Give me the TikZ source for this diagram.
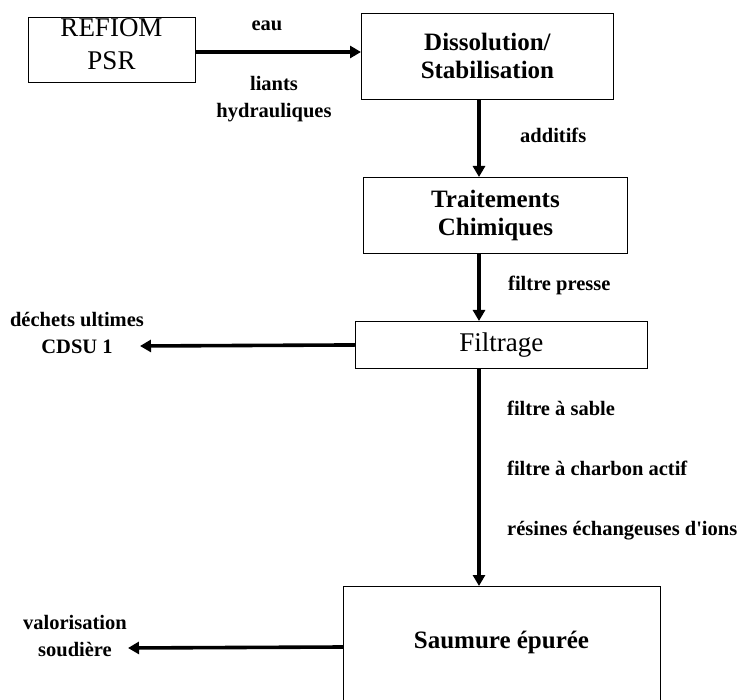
\documentclass[tikz,border=0pt]{standalone}
\usepackage{fontspec}
\setmainfont{Liberation Serif}
\usetikzlibrary{arrows.meta}
\begin{document}
\begin{tikzpicture}[x=1pt,y=-1pt,
  box/.style={draw, line width=0.9pt, inner sep=0pt, align=center},
  boxtext/.style={font=\fontsize{25}{28}\selectfont\bfseries},
  plain/.style={font=\fontsize{27}{30}\selectfont},
  lbl/.style={font=\fontsize{20.5}{27}\selectfont\bfseries, align=center, inner sep=0pt},
  flow/.style={line width=3.6pt, -{Triangle[length=11pt,width=12pt]}}]
\useasboundingbox (0,0) rectangle (742,700);
% process boxes
\node[box, minimum width=167pt, minimum height=65pt, anchor=north west] (refiom) at (28,17) {};
\node[plain, anchor=center] (refiomt) at (111.5,28) {REFIOM};
\node[plain, anchor=center] (psrt) at (111.5,61) {PSR};
\node[box, boxtext, minimum width=252pt, minimum height=86pt, anchor=north west] (dissol) at (361,13) {Dissolution/\\Stabilisation};
\node[box, boxtext, minimum width=264pt, minimum height=76pt, anchor=north west] (trait) at (363,177) {Traitements\\Chimiques};
\node[box, plain, minimum width=292pt, minimum height=47pt, anchor=north west] (filt) at (355,321) {Filtrage};
\node[box, minimum width=317pt, minimum height=130pt, anchor=north west] (saum) at (343,586) {};
\node[boxtext, anchor=center] (saumt) at (501.5,642) {Saumure épurée};
% connector end points and labels
\coordinate (cdsu) at (140,346);
\coordinate (valo) at (128,648);
\node[lbl] (eau) at (267,26) {eau};
\node[lbl] (liants) at (274,99) {liants\\hydrauliques};
\node[lbl, anchor=west] (add) at (520,135) {additifs};
\node[lbl, anchor=west] (fp) at (508,285) {filtre presse};
\node[lbl] (dech) at (77,333) {déchets ultimes\\CDSU 1};
\node[lbl, anchor=west] (fs) at (507,408) {filtre à sable};
\node[lbl, anchor=west] (fc) at (507,468) {filtre à charbon actif};
\node[lbl, anchor=west] (res) at (507,531) {résines échangeuses d\textquotesingle ions};
\node[lbl] (valot) at (75,636) {valorisation\\soudière};
% flow arrows
\draw[flow] (refiom.east |- 0,52) -- (dissol.west |- 0,52);
\draw[flow] (dissol.south -| 479,0) -- (trait.north -| 479,0);
\draw[flow] (trait.south -| 479,0) -- (filt.north -| 479,0);
\draw[flow] (filt.west) -- (cdsu);
\draw[flow] (filt.south -| 479,0) -- (saum.north -| 479,0);
\draw[flow] (saum.west |- 0,647) -- (valo);
\end{tikzpicture}
\end{document}
